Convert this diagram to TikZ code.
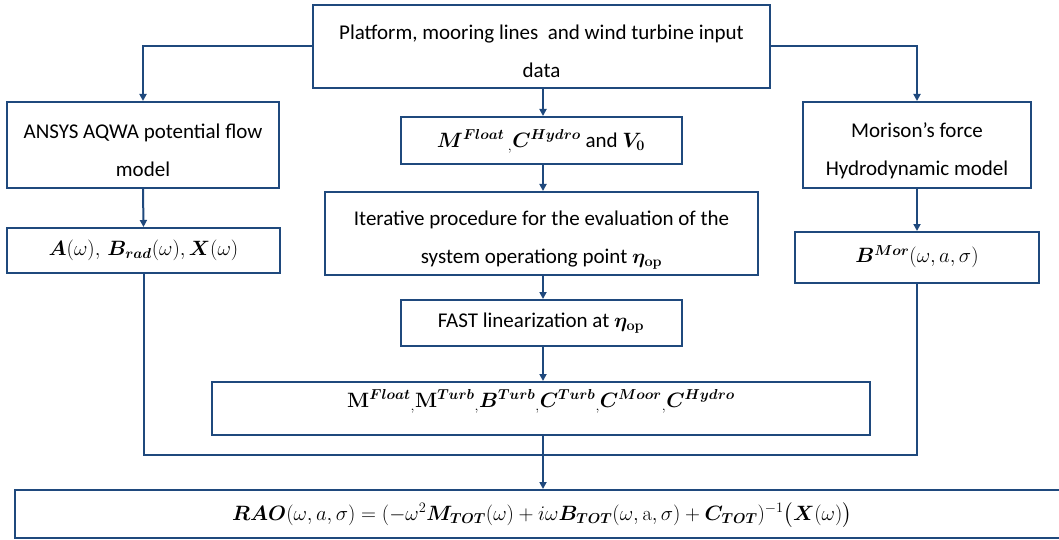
\documentclass[tikz,border=0pt]{standalone}
\usepackage{amsmath}
\usepackage{bm}
\usepackage[no-math]{fontspec}
\setmainfont{Carlito}
\usetikzlibrary{arrows.meta}

\definecolor{navy}{RGB}{31,73,125}

\tikzset{
  box/.style={draw=navy, line width=2pt, fill=white, inner sep=0pt},
  txt/.style={inner sep=0pt, align=center, font=\fontsize{21}{38}\selectfont},
  flow/.style={draw=navy, line width=2pt, -{Triangle[length=7pt,width=7pt]}},
  wire/.style={draw=navy, line width=2pt},
}

\begin{document}
\begin{tikzpicture}[x=1pt, y=-1pt]
\useasboundingbox (0,0) rectangle (1059,540);
\clip (0,0) rectangle (1059,540);

% boxes
\node[box, minimum width=457pt, minimum height=83pt] (top)   at (541.5,46.5) {};
\node[box, minimum width=272pt, minimum height=86pt] (ansys) at (143,145) {};
\node[box, minimum width=273pt, minimum height=45pt] (abx)   at (143.5,250.5) {};
\node[box, minimum width=228pt, minimum height=86pt] (mor)   at (917,145) {};
\node[box, minimum width=244pt, minimum height=51pt] (bmor)  at (917,257.5) {};
\node[box, minimum width=281pt, minimum height=47pt] (mfl)   at (541,140.5) {};
\node[box, minimum width=433pt, minimum height=83pt] (iter)  at (541.5,233.5) {};
\node[box, minimum width=281pt, minimum height=46pt] (fast)  at (541,323) {};
\node[box, minimum width=658pt, minimum height=53pt] (mats)  at (541,408.5) {};
\node[box, minimum width=1070pt, minimum height=48pt] (rao)  at (550,514) {};

% texts
\node[txt] (ttop) at ([yshift=-5pt]top.center)
  {Platform, mooring lines\ \ and wind turbine input\\data};
\node[txt] (tansys) at ([yshift=-5.5pt]ansys.center)
  {ANSYS AQWA potential flow\\model};
\node[txt] (tabx) at (abx.center)
  {$\bm{A}(\omega),\,\bm{B}_{\bm{rad}}(\omega),\bm{X}(\omega)$};
\node[txt] (tmor) at ([yshift=-5.5pt]mor.center)
  {Morison’s force\\Hydrodynamic model};
\node[txt] (tbmor) at ([yshift=1pt]bmor.center)
  {$\bm{B}^{\bm{Mor}}(\omega,a,\sigma)$};
\node[txt] (tmfl) at ([yshift=-1pt]mfl.center)
  {$\bm{M}^{\bm{Float}}\,{}_{,}\bm{C}^{\bm{Hydro}}$ and $\bm{V_0}$};
\node[txt] (titer) at ([yshift=-7pt]iter.center)
  {Iterative procedure for the evaluation of the\\system operationg point $\bm{\eta}_{\mathbf{op}}$};
\node[txt] (tfast) at (fast.center)
  {FAST linearization at $\bm{\eta}_{\mathbf{op}}$};
\node[txt] (tmats) at ([yshift=7pt]mats.center)
  {$\mathbf{M}^{\bm{Float}}{}_{,}\mathbf{M}^{\bm{Turb}}{}_{,}\bm{B}^{\bm{Turb}}{}_{,}\bm{C}^{\bm{Turb}}{}_{,}\bm{C}^{\bm{Moor}}{}_{,}\bm{C}^{\bm{Hydro}}$};
\node[txt] (trao) at (542,515)
  {$\bm{RAO}(\omega,a,\sigma)=(-\omega^2\bm{M}_{\bm{TOT}}(\omega)+i\omega\bm{B}_{\bm{TOT}}(\omega,\mathrm{a},\sigma)+\bm{C}_{\bm{TOT}})^{-1}\bigl(\bm{X}(\omega)\bigr)$};

% connectors
\coordinate (jl) at (abx.south |- 0,455);
\coordinate (jc) at (543,455);

\draw[flow] (top.west) -| (ansys.north);
\draw[flow] (top.east) -| (mor.north);
\draw[flow] (top.south -| jc) -- (mfl.north -| jc);
\draw[flow] (mfl.south -| jc) -- (iter.north -| jc);
\draw[flow] (iter.south -| jc) -- (fast.north -| jc);
\draw[flow] (fast.south -| jc) -- (mats.north -| jc);
\draw[flow] (mats.south -| jc) -- (rao.north -| jc);
\draw[flow] (ansys.south) -- (abx.north);
\draw[flow] (mor.south) -- (bmor.north);
\draw[wire] (abx.south) -- (jl) -- (jl -| bmor.south) -- (bmor.south);
\end{tikzpicture}
\end{document}
